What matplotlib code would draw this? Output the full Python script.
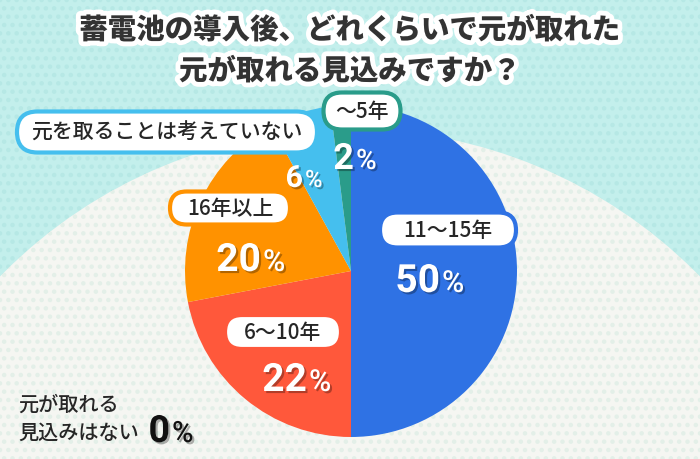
import numpy as np
import matplotlib
matplotlib.use('Agg')
import matplotlib.pyplot as plt
import matplotlib.patheffects as pe
from matplotlib.patches import Circle, Rectangle, FancyBboxPatch

plt.rcParams['font.family'] = ['Noto Sans CJK JP', 'DejaVu Sans']
plt.rcParams['hatch.linewidth'] = 2.0

# データ
title_lines = ['蓄電池の導入後、どれくらいで元が取れた', '元が取れる見込みですか？']
categories = ['11〜15年', '6〜10年', '16年以上', '元を取ることは考えていない', '〜5年']
values = [50, 22, 20, 6, 2]
colors = ['#2F72E4', '#FF583B', '#FF9200', '#45BFEE', '#2A9C8A']
zero_label = ['元が取れる', '見込みはない']
zero_value = 0

# レイアウト (ピクセル座標, 上が0)
label_box = [(448, 231, 136, 35), (283, 333, 116, 34), (230, 209, 120, 33),
             (167, 133, 300, 41), (362, 112, 77, 37)]
pct_pos = [(440, 293, 28), (307, 392, 28), (261, 272, 28), (303, 188, 22), (354, 170, 26)]

fig = plt.figure(figsize=(7, 4.6), dpi=100)
ax = fig.add_axes([0, 0, 1, 1])

# 背景
ax.add_patch(Rectangle((0, 0), 700, 460, fc='#C3EFEC', ec='#B6E8E5', lw=0, hatch='..', zorder=0))
ax.add_patch(Circle((350, 619), 489, fc='#F5F6F2', ec='#E3EFE8', lw=0, hatch='..', zorder=1))

# 円グラフ
wedges, _ = ax.pie(values, colors=colors, startangle=-90, counterclock=True,
                   center=(351, 272), radius=166,
                   wedgeprops=dict(linewidth=0, zorder=2))

ax.set_xlim(0, 700)
ax.set_ylim(460, 0)
ax.set_aspect('auto')
ax.axis('off')

# タイトル
stroke = [pe.withStroke(linewidth=7, foreground='white')]
ax.text(350, 31, title_lines[0], ha='center', va='center', fontsize=20.5,
        weight='heavy', color='#333333', path_effects=stroke, zorder=6)
ax.text(350, 72, title_lines[1], ha='center', va='center', fontsize=20.5,
        weight='heavy', color='#333333', path_effects=stroke, zorder=6)

shadow = [pe.SimplePatchShadow(offset=(1.5, -1.5), shadow_rgbFace='#000000', alpha=0.3), pe.Normal()]
num_font = ['Roboto', 'DejaVu Sans']

# ラベル
for i, cat in enumerate(categories):
    cx, cy, w, h = label_box[i]
    ax.add_patch(FancyBboxPatch((cx - w / 2, cy - h / 2), w, h,
                                boxstyle=f'round,pad=0,rounding_size={h / 2}',
                                fc='white', ec=colors[i], lw=3, zorder=4))
    ax.text(cx, cy, cat, ha='center', va='center', fontsize=15, weight='medium',
            color='#262626', zorder=5)
    px, py, fs = pct_pos[i]
    ax.text(px, py, str(values[i]), ha='right', va='baseline', fontsize=fs,
            family=num_font, weight='bold', color='white', path_effects=shadow, zorder=5)
    ax.text(px + 2, py, '%', ha='left', va='baseline', fontsize=fs * 0.78,
            family=num_font, weight='medium', color='white', path_effects=shadow, zorder=5)

# 0%
ax.text(18, 405, zero_label[0], ha='left', va='center', fontsize=14.5, weight='medium',
        color='#262626', zorder=5)
ax.text(18, 433, zero_label[1], ha='left', va='center', fontsize=14.5, weight='medium',
        color='#262626', zorder=5)
ax.text(170, 443, str(zero_value), ha='right', va='baseline', fontsize=27, family=num_font,
        weight='bold', color='#111111', path_effects=shadow, zorder=5)
ax.text(172, 443, '%', ha='left', va='baseline', fontsize=27 * 0.78, family=num_font,
        weight='medium', color='#111111', path_effects=shadow, zorder=5)

fig.savefig('out.png', dpi=100)
